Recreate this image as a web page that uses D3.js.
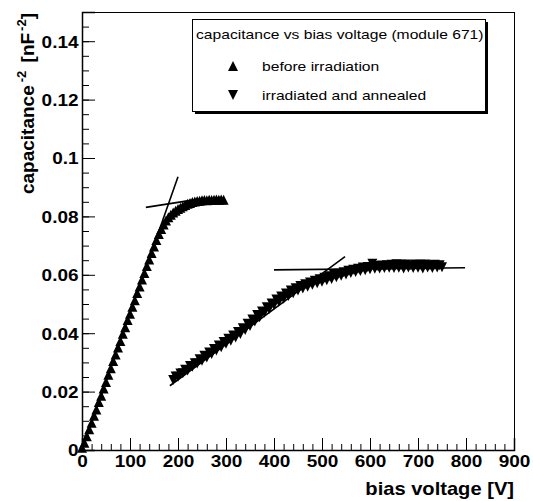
<!DOCTYPE html>
<html>
<head>
<meta charset="utf-8">
<script src="https://cdn.jsdelivr.net/npm/d3@7"></script>
<style>
  body { margin: 0; background: #fff; }
  svg { display: block; font-family: "Liberation Sans", Arial, sans-serif; }
</style>
</head>
<body>
<div id="chart"></div>
<script>
// before irradiation (up triangles)
const voltBefore = [0, 5, 10, 15, 20, 25, 30, 35, 40, 45, 50, 55, 60, 65, 70, 75, 80, 85, 90, 95,
  100, 105, 110, 115, 120, 125, 130, 135, 140, 145, 150, 155, 160, 165, 170, 175, 180, 185, 190, 195,
  200, 205, 210, 215, 220, 225, 230, 235, 240, 245, 250, 255, 260, 265, 270, 275, 280, 285, 290, 295];
const capBefore = [0.0008, 0.0025, 0.0047, 0.0071, 0.0093, 0.0117, 0.0139, 0.0164, 0.0186, 0.0211,
  0.0233, 0.0258, 0.0280, 0.0305, 0.0327, 0.0351, 0.0373, 0.0398, 0.0420, 0.0445,
  0.0467, 0.0491, 0.0513, 0.0538, 0.0560, 0.0584, 0.0606, 0.0630, 0.0652, 0.0675,
  0.0697, 0.0719, 0.0740, 0.0757, 0.0772, 0.0786, 0.0797, 0.0806, 0.0813, 0.0819,
  0.0825, 0.0830, 0.0835, 0.0839, 0.0843, 0.0846, 0.0849, 0.0851, 0.0853, 0.0854,
  0.0855, 0.0856, 0.0855, 0.0857, 0.0856, 0.0857, 0.0858, 0.0857, 0.0858, 0.0857];

// irradiated and annealed (down triangles)
const voltAfter = [190, 195, 200, 205, 210, 215, 220, 225, 230, 235, 240, 245, 250, 255, 260, 265,
  270, 275, 280, 285, 290, 295, 300, 305, 310, 315, 320, 325, 330, 335, 340, 345, 350, 355, 360, 365,
  370, 375, 380, 385, 390, 395, 400, 405, 410, 415, 420, 425, 430, 435, 440, 445, 450, 455, 460, 465,
  470, 475, 480, 485, 490, 495, 500, 505, 510, 515, 520, 525, 530, 535, 540, 545, 550, 555, 560, 565,
  570, 575, 580, 585, 590, 595, 600, 605, 610, 615, 620, 625, 630, 635, 640, 645, 650, 655, 660, 665,
  670, 675, 680, 685, 690, 695, 700, 705, 710, 715, 720, 725, 730, 735, 740, 745, 750];
const capAfter = [0.0240, 0.0252, 0.0251, 0.0262, 0.0263, 0.0275, 0.0272, 0.0288, 0.0285, 0.0297,
  0.0296, 0.0311, 0.0306, 0.0323, 0.0317, 0.0334, 0.0329, 0.0346, 0.0341, 0.0358,
  0.0352, 0.0370, 0.0364, 0.0381, 0.0374, 0.0392, 0.0385, 0.0404, 0.0397, 0.0417,
  0.0411, 0.0432, 0.0425, 0.0447, 0.0440, 0.0462, 0.0455, 0.0474, 0.0470, 0.0489,
  0.0483, 0.0502, 0.0497, 0.0515, 0.0508, 0.0526, 0.0518, 0.0536, 0.0527, 0.0546,
  0.0537, 0.0554, 0.0546, 0.0562, 0.0553, 0.0568, 0.0559, 0.0574, 0.0566, 0.0580,
  0.0571, 0.0585, 0.0576, 0.0590, 0.0581, 0.0595, 0.0586, 0.0600, 0.0592, 0.0604,
  0.0597, 0.0609, 0.0601, 0.0614, 0.0606, 0.0617, 0.0610, 0.0621, 0.0613, 0.0625,
  0.0616, 0.0627, 0.0619, 0.0638, 0.0621, 0.0630, 0.0622, 0.0632, 0.0623, 0.0633,
  0.0624, 0.0634, 0.0623, 0.0636, 0.0624, 0.0634, 0.0622, 0.0635, 0.0625, 0.0633,
  0.0623, 0.0635, 0.0624, 0.0634, 0.0622, 0.0635, 0.0625, 0.0633, 0.0623, 0.0634,
  0.0625, 0.0633, 0.0626];

// straight-line fits, [voltage, capacitance^-2] end points
const fitBefore = [[[0, 0], [200, 0.0936]], [[133, 0.0831], [250, 0.0861]]];
const fitAfter = [[[183, 0.022], [548, 0.0662]], [[400, 0.0617], [798, 0.0624]]];

const xTickValues = [0, 100, 200, 300, 400, 500, 600, 700, 800, 900];
const xTickLabels = ["0", "100", "200", "300", "400", "500", "600", "700", "800", "900"];
const yTickValues = [0, 0.02, 0.04, 0.06, 0.08, 0.1, 0.12, 0.14];
const yTickLabels = ["0", "0.02", "0.04", "0.06", "0.08", "0.1", "0.12", "0.14"];

const legendTitle = "capacitance vs bias voltage (module 671)";
const legendLabels = ["before irradiation", "irradiated and annealed"];

const width = 533, height = 501;
const margin = { top: 12, right: 19, bottom: 51, left: 82 };
const stretch = 1.15; // text in the picture is a bit wider than Helvetica

const svg = d3.select("#chart").append("svg")
  .attr("width", width)
  .attr("height", height);

const x = d3.scaleLinear().domain([0, 900]).range([margin.left, width - margin.right]);
const y = d3.scaleLinear().domain([0, 0.15]).range([height - margin.bottom, margin.top]);

// frame
svg.append("rect")
  .attr("x", x(0) + 0.5)
  .attr("y", y(0.15) + 0.5)
  .attr("width", x(900) - x(0))
  .attr("height", y(0) - y(0.15))
  .attr("fill", "none")
  .attr("stroke", "#000");

// minor ticks
svg.append("g")
  .attr("transform", `translate(0,${y(0)})`)
  .call(d3.axisBottom(x).tickValues(d3.range(0, 901, 20)).tickSize(-6).tickFormat(""))
  .call((g) => g.select(".domain").remove());
svg.append("g")
  .attr("transform", `translate(${x(0)},0)`)
  .call(d3.axisLeft(y).tickValues(d3.range(0, 0.1501, 0.005)).tickSize(-7).tickFormat(""))
  .call((g) => g.select(".domain").remove());

// major ticks + labels
const xAxis = svg.append("g")
  .attr("transform", `translate(0,${y(0)})`)
  .call(d3.axisBottom(x).tickValues(xTickValues).tickSize(-12)
    .tickFormat((d, i) => xTickLabels[i]));
xAxis.select(".domain").attr("stroke-width", 1.5);
xAxis.selectAll("text")
  .attr("y", 17)
  .attr("dy", null)
  .attr("transform", `scale(${stretch},1)`)
  .attr("font-size", 16.5)
  .attr("font-weight", "bold")
  .attr("fill", "#000");

const yAxis = svg.append("g")
  .attr("transform", `translate(${x(0)},0)`)
  .call(d3.axisLeft(y).tickValues(yTickValues).tickSize(-13)
    .tickFormat((d, i) => yTickLabels[i]));
yAxis.select(".domain").attr("stroke-width", 1.5);
yAxis.selectAll("text")
  .attr("x", -3.5 / stretch)
  .attr("dy", "0.36em")
  .attr("transform", `scale(${stretch},1)`)
  .attr("font-size", 16.5)
  .attr("font-weight", "bold")
  .attr("fill", "#000");

// axis titles
svg.append("text")
  .attr("transform", `translate(${x(900)},495) scale(${stretch},1)`)
  .attr("text-anchor", "end")
  .attr("font-size", 17.5)
  .attr("font-weight", "bold")
  .text("bias voltage [V]");

const yTitle = svg.append("text")
  .attr("transform", `translate(34,13) rotate(-90)`)
  .attr("text-anchor", "end")
  .attr("font-size", 19)
  .attr("font-weight", "bold");
yTitle.append("tspan").text("capacitance");
yTitle.append("tspan").attr("dx", 3).attr("dy", -8).attr("font-size", 13).text("-2");
yTitle.append("tspan").attr("dx", 3).attr("dy", 8).text(" [nF");
yTitle.append("tspan").attr("dx", 2).attr("dy", -8).attr("font-size", 13).text("-2");
yTitle.append("tspan").attr("dy", 8).text("]");

// fit lines
const line = d3.line().x((d) => x(d[0])).y((d) => y(d[1]));
svg.append("g")
  .selectAll("path")
  .data(fitBefore.concat(fitAfter))
  .join("path")
  .attr("d", line)
  .attr("fill", "none")
  .attr("stroke", "#000")
  .attr("stroke-width", 1.6);

// markers
const h = 5;
const upTri = `M${-h},${h}L${h},${h}L0,${-h}Z`;
const downTri = `M${-h},${-h}L${h},${-h}L0,${h}Z`;

svg.append("g")
  .selectAll("path")
  .data(d3.zip(voltBefore, capBefore))
  .join("path")
  .attr("transform", (d) => `translate(${x(d[0])},${y(d[1])})`)
  .attr("d", upTri)
  .attr("fill", "#000");

svg.append("g")
  .selectAll("path")
  .data(d3.zip(voltAfter, capAfter))
  .join("path")
  .attr("transform", (d) => `translate(${x(d[0])},${y(d[1])})`)
  .attr("d", downTri)
  .attr("fill", "#000");

// legend
const lg = svg.append("g").attr("transform", "translate(192,19)");
lg.append("rect")
  .attr("x", 3).attr("y", 3)
  .attr("width", 293).attr("height", 92)
  .attr("fill", "#000");
lg.append("rect")
  .attr("x", 0.5).attr("y", 0.5)
  .attr("width", 293).attr("height", 92)
  .attr("fill", "#fff")
  .attr("stroke", "#000");
lg.append("text")
  .attr("transform", `translate(4,20) scale(${stretch},1)`)
  .attr("font-size", 13.6)
  .text(legendTitle);
const rows = lg.selectAll("g.row")
  .data(legendLabels)
  .join("g")
  .attr("class", "row")
  .attr("transform", (d, i) => `translate(0,${47 + i * 29})`);
rows.append("path")
  .attr("transform", "translate(41,0)")
  .attr("d", (d, i) => (i === 0 ? upTri : downTri))
  .attr("fill", "#000");
rows.append("text")
  .attr("transform", `translate(70,5) scale(${stretch},1)`)
  .attr("font-size", 13.6)
  .text((d) => d);
</script>
</body>
</html>
